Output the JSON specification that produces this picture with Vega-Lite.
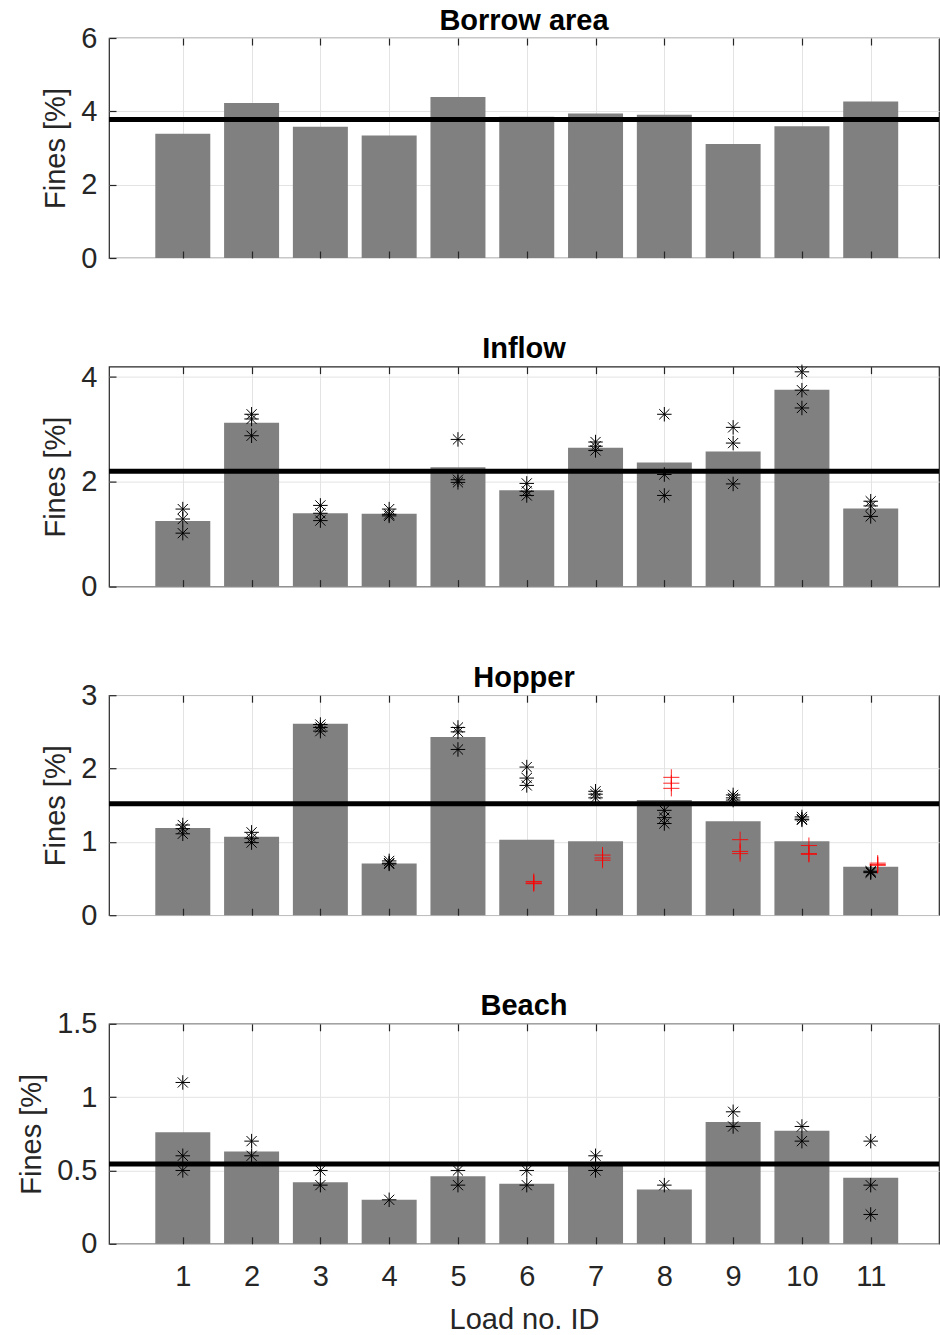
{
  "$schema": "https://vega.github.io/schema/vega-lite/v6.json",
  "bounds": "flush",
  "spacing": 108.6,
  "padding": {"left": 17, "top": 5, "right": 0, "bottom": 0},
  "config": {
    "font": "Liberation Sans",
    "view": {"stroke": "#262626", "strokeWidth": 1.2},
    "axis": {
      "domainColor": "#262626", "domainWidth": 1.2,
      "tickColor": "#262626", "tickWidth": 1.2,
      "labelColor": "#262626", "labelFontSize": 29, "labelFont": "Liberation Sans",
      "titleColor": "#262626", "titleFontSize": 29, "titleFontWeight": "normal", "titleFont": "Liberation Sans",
      "gridColor": "#e3e3e3", "gridWidth": 1
    },
    "title": {"fontSize": 29, "fontWeight": "bold", "color": "#000000", "offset": -11.5, "frame": "group", "font": "Liberation Sans"}
  },
  "datasets": {
    "bars": [
      {"p": "Borrow area", "load": 1, "fines": 3.39}, {"p": "Borrow area", "load": 2, "fines": 4.23}, {"p": "Borrow area", "load": 3, "fines": 3.58}, {"p": "Borrow area", "load": 4, "fines": 3.34}, {"p": "Borrow area", "load": 5, "fines": 4.39}, {"p": "Borrow area", "load": 6, "fines": 3.85}, {"p": "Borrow area", "load": 7, "fines": 3.94}, {"p": "Borrow area", "load": 8, "fines": 3.91}, {"p": "Borrow area", "load": 9, "fines": 3.11}, {"p": "Borrow area", "load": 10, "fines": 3.59}, {"p": "Borrow area", "load": 11, "fines": 4.27},
      {"p": "Inflow", "load": 1, "fines": 1.25}, {"p": "Inflow", "load": 2, "fines": 3.13}, {"p": "Inflow", "load": 3, "fines": 1.40}, {"p": "Inflow", "load": 4, "fines": 1.39}, {"p": "Inflow", "load": 5, "fines": 2.28}, {"p": "Inflow", "load": 6, "fines": 1.84}, {"p": "Inflow", "load": 7, "fines": 2.65}, {"p": "Inflow", "load": 8, "fines": 2.37}, {"p": "Inflow", "load": 9, "fines": 2.58}, {"p": "Inflow", "load": 10, "fines": 3.76}, {"p": "Inflow", "load": 11, "fines": 1.49},
      {"p": "Hopper", "load": 1, "fines": 1.19}, {"p": "Hopper", "load": 2, "fines": 1.07}, {"p": "Hopper", "load": 3, "fines": 2.61}, {"p": "Hopper", "load": 4, "fines": 0.705}, {"p": "Hopper", "load": 5, "fines": 2.43}, {"p": "Hopper", "load": 6, "fines": 1.03}, {"p": "Hopper", "load": 7, "fines": 1.01}, {"p": "Hopper", "load": 8, "fines": 1.57}, {"p": "Hopper", "load": 9, "fines": 1.28}, {"p": "Hopper", "load": 10, "fines": 1.01}, {"p": "Hopper", "load": 11, "fines": 0.66},
      {"p": "Beach", "load": 1, "fines": 0.76}, {"p": "Beach", "load": 2, "fines": 0.63}, {"p": "Beach", "load": 3, "fines": 0.42}, {"p": "Beach", "load": 4, "fines": 0.30}, {"p": "Beach", "load": 5, "fines": 0.46}, {"p": "Beach", "load": 6, "fines": 0.41}, {"p": "Beach", "load": 7, "fines": 0.555}, {"p": "Beach", "load": 8, "fines": 0.37}, {"p": "Beach", "load": 9, "fines": 0.83}, {"p": "Beach", "load": 10, "fines": 0.77}, {"p": "Beach", "load": 11, "fines": 0.45}
    ],
    "means": [
      {"p": "Borrow area", "mean": 3.78}, {"p": "Inflow", "mean": 2.20}, {"p": "Hopper", "mean": 1.52}, {"p": "Beach", "mean": 0.544}
    ],
    "stars": [
      {"p": "Inflow", "load": 1, "fines": 1.48}, {"p": "Inflow", "load": 1, "fines": 1.29}, {"p": "Inflow", "load": 1, "fines": 1.02},
      {"p": "Inflow", "load": 2, "fines": 3.29}, {"p": "Inflow", "load": 2, "fines": 3.20}, {"p": "Inflow", "load": 2, "fines": 2.88},
      {"p": "Inflow", "load": 3, "fines": 1.55}, {"p": "Inflow", "load": 3, "fines": 1.40}, {"p": "Inflow", "load": 3, "fines": 1.26},
      {"p": "Inflow", "load": 4, "fines": 1.48}, {"p": "Inflow", "load": 4, "fines": 1.38}, {"p": "Inflow", "load": 4, "fines": 1.35},
      {"p": "Inflow", "load": 5, "fines": 2.81}, {"p": "Inflow", "load": 5, "fines": 2.04}, {"p": "Inflow", "load": 5, "fines": 1.99},
      {"p": "Inflow", "load": 6, "fines": 1.97}, {"p": "Inflow", "load": 6, "fines": 1.82}, {"p": "Inflow", "load": 6, "fines": 1.74},
      {"p": "Inflow", "load": 7, "fines": 2.76}, {"p": "Inflow", "load": 7, "fines": 2.68}, {"p": "Inflow", "load": 7, "fines": 2.60},
      {"p": "Inflow", "load": 8, "fines": 3.29}, {"p": "Inflow", "load": 8, "fines": 2.14}, {"p": "Inflow", "load": 8, "fines": 1.74},
      {"p": "Inflow", "load": 9, "fines": 3.04}, {"p": "Inflow", "load": 9, "fines": 2.74}, {"p": "Inflow", "load": 9, "fines": 1.96},
      {"p": "Inflow", "load": 10, "fines": 4.10}, {"p": "Inflow", "load": 10, "fines": 3.75}, {"p": "Inflow", "load": 10, "fines": 3.41},
      {"p": "Inflow", "load": 11, "fines": 1.63}, {"p": "Inflow", "load": 11, "fines": 1.54}, {"p": "Inflow", "load": 11, "fines": 1.34},
      {"p": "Hopper", "load": 1, "fines": 1.23}, {"p": "Hopper", "load": 1, "fines": 1.18}, {"p": "Hopper", "load": 1, "fines": 1.11},
      {"p": "Hopper", "load": 2, "fines": 1.13}, {"p": "Hopper", "load": 2, "fines": 1.05}, {"p": "Hopper", "load": 2, "fines": 0.99},
      {"p": "Hopper", "load": 3, "fines": 2.60}, {"p": "Hopper", "load": 3, "fines": 2.56}, {"p": "Hopper", "load": 3, "fines": 2.51},
      {"p": "Hopper", "load": 4, "fines": 0.74}, {"p": "Hopper", "load": 4, "fines": 0.71}, {"p": "Hopper", "load": 4, "fines": 0.70},
      {"p": "Hopper", "load": 5, "fines": 2.56}, {"p": "Hopper", "load": 5, "fines": 2.50}, {"p": "Hopper", "load": 5, "fines": 2.26},
      {"p": "Hopper", "load": 6, "fines": 2.02}, {"p": "Hopper", "load": 6, "fines": 1.87}, {"p": "Hopper", "load": 6, "fines": 1.77},
      {"p": "Hopper", "load": 7, "fines": 1.69}, {"p": "Hopper", "load": 7, "fines": 1.65}, {"p": "Hopper", "load": 7, "fines": 1.60},
      {"p": "Hopper", "load": 8, "fines": 1.43}, {"p": "Hopper", "load": 8, "fines": 1.33}, {"p": "Hopper", "load": 8, "fines": 1.25},
      {"p": "Hopper", "load": 9, "fines": 1.64}, {"p": "Hopper", "load": 9, "fines": 1.60}, {"p": "Hopper", "load": 9, "fines": 1.57},
      {"p": "Hopper", "load": 10, "fines": 1.34}, {"p": "Hopper", "load": 10, "fines": 1.31}, {"p": "Hopper", "load": 10, "fines": 1.30},
      {"p": "Hopper", "load": 11, "fines": 0.60}, {"p": "Hopper", "load": 11, "fines": 0.59}, {"p": "Hopper", "load": 11, "fines": 0.58},
      {"p": "Beach", "load": 1, "fines": 1.1}, {"p": "Beach", "load": 1, "fines": 0.6}, {"p": "Beach", "load": 1, "fines": 0.5},
      {"p": "Beach", "load": 2, "fines": 0.7}, {"p": "Beach", "load": 2, "fines": 0.6},
      {"p": "Beach", "load": 3, "fines": 0.5}, {"p": "Beach", "load": 3, "fines": 0.4},
      {"p": "Beach", "load": 4, "fines": 0.3},
      {"p": "Beach", "load": 5, "fines": 0.5}, {"p": "Beach", "load": 5, "fines": 0.4},
      {"p": "Beach", "load": 6, "fines": 0.5}, {"p": "Beach", "load": 6, "fines": 0.4},
      {"p": "Beach", "load": 7, "fines": 0.6}, {"p": "Beach", "load": 7, "fines": 0.5},
      {"p": "Beach", "load": 8, "fines": 0.4},
      {"p": "Beach", "load": 9, "fines": 0.9}, {"p": "Beach", "load": 9, "fines": 0.8},
      {"p": "Beach", "load": 10, "fines": 0.8}, {"p": "Beach", "load": 10, "fines": 0.7},
      {"p": "Beach", "load": 11, "fines": 0.7}, {"p": "Beach", "load": 11, "fines": 0.4}, {"p": "Beach", "load": 11, "fines": 0.2}
    ],
    "plus": [
      {"p": "Hopper", "load": 6, "fines": 0.46}, {"p": "Hopper", "load": 6, "fines": 0.44}, {"p": "Hopper", "load": 6, "fines": 0.43},
      {"p": "Hopper", "load": 7, "fines": 0.82}, {"p": "Hopper", "load": 7, "fines": 0.78}, {"p": "Hopper", "load": 7, "fines": 0.75},
      {"p": "Hopper", "load": 8, "fines": 1.88}, {"p": "Hopper", "load": 8, "fines": 1.80}, {"p": "Hopper", "load": 8, "fines": 1.73},
      {"p": "Hopper", "load": 9, "fines": 1.03}, {"p": "Hopper", "load": 9, "fines": 0.87}, {"p": "Hopper", "load": 9, "fines": 0.84},
      {"p": "Hopper", "load": 10, "fines": 0.95}, {"p": "Hopper", "load": 10, "fines": 0.84}, {"p": "Hopper", "load": 10, "fines": 0.83},
      {"p": "Hopper", "load": 11, "fines": 0.71}, {"p": "Hopper", "load": 11, "fines": 0.69}, {"p": "Hopper", "load": 11, "fines": 0.68}
    ]
  },
  "vconcat": [
    {
      "title": "Borrow area",
      "width": 830, "height": 220,
      "resolve": {"axis": {"x": "independent", "y": "independent"}},
      "layer": [
        {"data": {"name": "bars"}, "transform": [{"filter": "datum.p === 'Borrow area'"}],
         "mark": {"type": "bar", "size": 55, "color": "#808080"},
         "encoding": {
           "x": {"field": "load", "type": "quantitative", "scale": {"domain": [0, 11.92], "nice": false, "zero": false},
                 "axis": {"orient": "bottom", "values": [1,2,3,4,5,6,7,8,9,10,11], "grid": true, "domain": false, "ticks": false, "labels": false, "title": null, "zindex": 0}},
           "y": {"field": "fines", "type": "quantitative", "scale": {"domain": [0, 6], "nice": false},
                 "axis": {"orient": "left", "values": [0,2,4,6], "grid": true, "domain": false, "ticks": false, "format": "~g", "title": "Fines [%]", "labelPadding": 12, "titlePadding": 10, "zindex": 0}}}},
        {"data": {"name": "means"}, "transform": [{"filter": "datum.p === 'Borrow area'"}],
         "mark": {"type": "rule", "strokeWidth": 5, "color": "#000000"},
         "encoding": {"y": {"field": "mean", "type": "quantitative", "axis": null}}},
        {"data": {"name": "stars"}, "transform": [{"filter": "datum.p === 'Borrow area'"}],
         "mark": {"type": "point", "shape": "M0,-1L0,1M-1,0L1,0M-0.7,-0.7L0.7,0.7M-0.7,0.7L0.7,-0.7", "size": 210, "stroke": "#000000", "strokeWidth": 1, "filled": false, "opacity": 1},
         "encoding": {
           "x": {"field": "load", "type": "quantitative", "axis": {"orient": "top", "offset": -7, "tickSize": 7, "minExtent": 0, "maxExtent": 0, "values": [1,2,3,4,5,6,7,8,9,10,11], "grid": false, "domain": false, "labels": false, "title": null, "zindex": 1}},
           "y": {"field": "fines", "type": "quantitative", "axis": {"orient": "left", "offset": -7, "tickSize": 7, "minExtent": 0, "maxExtent": 0, "values": [0,2,4,6], "grid": false, "domain": false, "labels": false, "title": null, "zindex": 1}}}},
        {"data": {"name": "plus"}, "transform": [{"filter": "datum.p === 'Borrow area'"}],
         "mark": {"type": "point", "shape": "M-1,0L1,0M0,-1L0,1", "size": 260, "stroke": "#ff0000", "strokeWidth": 1, "filled": false, "opacity": 0.85, "xOffset": 7},
         "encoding": {
           "x": {"field": "load", "type": "quantitative", "axis": {"orient": "bottom", "offset": -7, "tickSize": 7, "minExtent": 0, "maxExtent": 0, "values": [1,2,3,4,5,6,7,8,9,10,11], "grid": false, "domain": false, "labels": false, "title": null, "zindex": 1}},
           "y": {"field": "fines", "type": "quantitative", "axis": null}}}
      ]
    },
    {
      "title": {"text": "Inflow", "offset": -1},
      "width": 830, "height": 220,
      "resolve": {"axis": {"x": "independent", "y": "independent"}},
      "layer": [
        {"data": {"name": "bars"}, "transform": [{"filter": "datum.p === 'Inflow'"}],
         "mark": {"type": "bar", "size": 55, "color": "#808080"},
         "encoding": {
           "x": {"field": "load", "type": "quantitative", "scale": {"domain": [0, 11.92], "nice": false, "zero": false},
                 "axis": {"orient": "bottom", "values": [1,2,3,4,5,6,7,8,9,10,11], "grid": true, "domain": false, "ticks": false, "labels": false, "title": null, "zindex": 0}},
           "y": {"field": "fines", "type": "quantitative", "scale": {"domain": [0, 4.2], "nice": false},
                 "axis": {"orient": "left", "values": [0,2,4], "grid": true, "domain": false, "ticks": false, "format": "~g", "title": "Fines [%]", "labelPadding": 12, "titlePadding": 10, "zindex": 0}}}},
        {"data": {"name": "means"}, "transform": [{"filter": "datum.p === 'Inflow'"}],
         "mark": {"type": "rule", "strokeWidth": 5, "color": "#000000"},
         "encoding": {"y": {"field": "mean", "type": "quantitative", "axis": null}}},
        {"data": {"name": "stars"}, "transform": [{"filter": "datum.p === 'Inflow'"}],
         "mark": {"type": "point", "shape": "M0,-1L0,1M-1,0L1,0M-0.7,-0.7L0.7,0.7M-0.7,0.7L0.7,-0.7", "size": 210, "stroke": "#000000", "strokeWidth": 1, "filled": false, "opacity": 1},
         "encoding": {
           "x": {"field": "load", "type": "quantitative", "axis": {"orient": "top", "offset": -7, "tickSize": 7, "minExtent": 0, "maxExtent": 0, "values": [1,2,3,4,5,6,7,8,9,10,11], "grid": false, "domain": false, "labels": false, "title": null, "zindex": 1}},
           "y": {"field": "fines", "type": "quantitative", "axis": {"orient": "left", "offset": -7, "tickSize": 7, "minExtent": 0, "maxExtent": 0, "values": [0,2,4], "grid": false, "domain": false, "labels": false, "title": null, "zindex": 1}}}},
        {"data": {"name": "plus"}, "transform": [{"filter": "datum.p === 'Inflow'"}],
         "mark": {"type": "point", "shape": "M-1,0L1,0M0,-1L0,1", "size": 260, "stroke": "#ff0000", "strokeWidth": 1, "filled": false, "opacity": 0.85, "xOffset": 7},
         "encoding": {
           "x": {"field": "load", "type": "quantitative", "axis": {"orient": "bottom", "offset": -7, "tickSize": 7, "minExtent": 0, "maxExtent": 0, "values": [1,2,3,4,5,6,7,8,9,10,11], "grid": false, "domain": false, "labels": false, "title": null, "zindex": 1}},
           "y": {"field": "fines", "type": "quantitative", "axis": null}}}
      ]
    },
    {
      "title": "Hopper",
      "width": 830, "height": 220,
      "resolve": {"axis": {"x": "independent", "y": "independent"}},
      "layer": [
        {"data": {"name": "bars"}, "transform": [{"filter": "datum.p === 'Hopper'"}],
         "mark": {"type": "bar", "size": 55, "color": "#808080"},
         "encoding": {
           "x": {"field": "load", "type": "quantitative", "scale": {"domain": [0, 11.92], "nice": false, "zero": false},
                 "axis": {"orient": "bottom", "values": [1,2,3,4,5,6,7,8,9,10,11], "grid": true, "domain": false, "ticks": false, "labels": false, "title": null, "zindex": 0}},
           "y": {"field": "fines", "type": "quantitative", "scale": {"domain": [0, 3], "nice": false},
                 "axis": {"orient": "left", "values": [0,1,2,3], "grid": true, "domain": false, "ticks": false, "format": "~g", "title": "Fines [%]", "labelPadding": 12, "titlePadding": 10, "zindex": 0}}}},
        {"data": {"name": "means"}, "transform": [{"filter": "datum.p === 'Hopper'"}],
         "mark": {"type": "rule", "strokeWidth": 5, "color": "#000000"},
         "encoding": {"y": {"field": "mean", "type": "quantitative", "axis": null}}},
        {"data": {"name": "stars"}, "transform": [{"filter": "datum.p === 'Hopper'"}],
         "mark": {"type": "point", "shape": "M0,-1L0,1M-1,0L1,0M-0.7,-0.7L0.7,0.7M-0.7,0.7L0.7,-0.7", "size": 210, "stroke": "#000000", "strokeWidth": 1, "filled": false, "opacity": 1},
         "encoding": {
           "x": {"field": "load", "type": "quantitative", "axis": {"orient": "top", "offset": -7, "tickSize": 7, "minExtent": 0, "maxExtent": 0, "values": [1,2,3,4,5,6,7,8,9,10,11], "grid": false, "domain": false, "labels": false, "title": null, "zindex": 1}},
           "y": {"field": "fines", "type": "quantitative", "axis": {"orient": "left", "offset": -7, "tickSize": 7, "minExtent": 0, "maxExtent": 0, "values": [0,1,2,3], "grid": false, "domain": false, "labels": false, "title": null, "zindex": 1}}}},
        {"data": {"name": "plus"}, "transform": [{"filter": "datum.p === 'Hopper'"}],
         "mark": {"type": "point", "shape": "M-1,0L1,0M0,-1L0,1", "size": 260, "stroke": "#ff0000", "strokeWidth": 1, "filled": false, "opacity": 0.85, "xOffset": 7},
         "encoding": {
           "x": {"field": "load", "type": "quantitative", "axis": {"orient": "bottom", "offset": -7, "tickSize": 7, "minExtent": 0, "maxExtent": 0, "values": [1,2,3,4,5,6,7,8,9,10,11], "grid": false, "domain": false, "labels": false, "title": null, "zindex": 1}},
           "y": {"field": "fines", "type": "quantitative", "axis": null}}}
      ]
    },
    {
      "title": "Beach",
      "width": 830, "height": 220,
      "resolve": {"axis": {"x": "independent", "y": "independent"}},
      "layer": [
        {"data": {"name": "bars"}, "transform": [{"filter": "datum.p === 'Beach'"}],
         "mark": {"type": "bar", "size": 55, "color": "#808080"},
         "encoding": {
           "x": {"field": "load", "type": "quantitative", "scale": {"domain": [0, 11.92], "nice": false, "zero": false},
                 "axis": {"orient": "bottom", "values": [1,2,3,4,5,6,7,8,9,10,11], "grid": true, "domain": false, "ticks": false, "labels": true, "labelFlush": false, "title": "Load no. ID", "labelPadding": 19, "titlePadding": 14, "zindex": 0}},
           "y": {"field": "fines", "type": "quantitative", "scale": {"domain": [0, 1.5], "nice": false},
                 "axis": {"orient": "left", "values": [0,0.5,1,1.5], "grid": true, "domain": false, "ticks": false, "format": "~g", "title": "Fines [%]", "labelPadding": 12, "titlePadding": 10, "zindex": 0}}}},
        {"data": {"name": "means"}, "transform": [{"filter": "datum.p === 'Beach'"}],
         "mark": {"type": "rule", "strokeWidth": 5, "color": "#000000"},
         "encoding": {"y": {"field": "mean", "type": "quantitative", "axis": null}}},
        {"data": {"name": "stars"}, "transform": [{"filter": "datum.p === 'Beach'"}],
         "mark": {"type": "point", "shape": "M0,-1L0,1M-1,0L1,0M-0.7,-0.7L0.7,0.7M-0.7,0.7L0.7,-0.7", "size": 210, "stroke": "#000000", "strokeWidth": 1, "filled": false, "opacity": 1},
         "encoding": {
           "x": {"field": "load", "type": "quantitative", "axis": {"orient": "top", "offset": -7, "tickSize": 7, "minExtent": 0, "maxExtent": 0, "values": [1,2,3,4,5,6,7,8,9,10,11], "grid": false, "domain": false, "labels": false, "title": null, "zindex": 1}},
           "y": {"field": "fines", "type": "quantitative", "axis": {"orient": "left", "offset": -7, "tickSize": 7, "minExtent": 0, "maxExtent": 0, "values": [0,0.5,1,1.5], "grid": false, "domain": false, "labels": false, "title": null, "zindex": 1}}}},
        {"data": {"name": "plus"}, "transform": [{"filter": "datum.p === 'Beach'"}],
         "mark": {"type": "point", "shape": "M-1,0L1,0M0,-1L0,1", "size": 260, "stroke": "#ff0000", "strokeWidth": 1, "filled": false, "opacity": 0.85, "xOffset": 7},
         "encoding": {
           "x": {"field": "load", "type": "quantitative", "axis": {"orient": "bottom", "offset": -7, "tickSize": 7, "minExtent": 0, "maxExtent": 0, "values": [1,2,3,4,5,6,7,8,9,10,11], "grid": false, "domain": false, "labels": false, "title": null, "zindex": 1}},
           "y": {"field": "fines", "type": "quantitative", "axis": null}}}
      ]
    }
  ]
}
